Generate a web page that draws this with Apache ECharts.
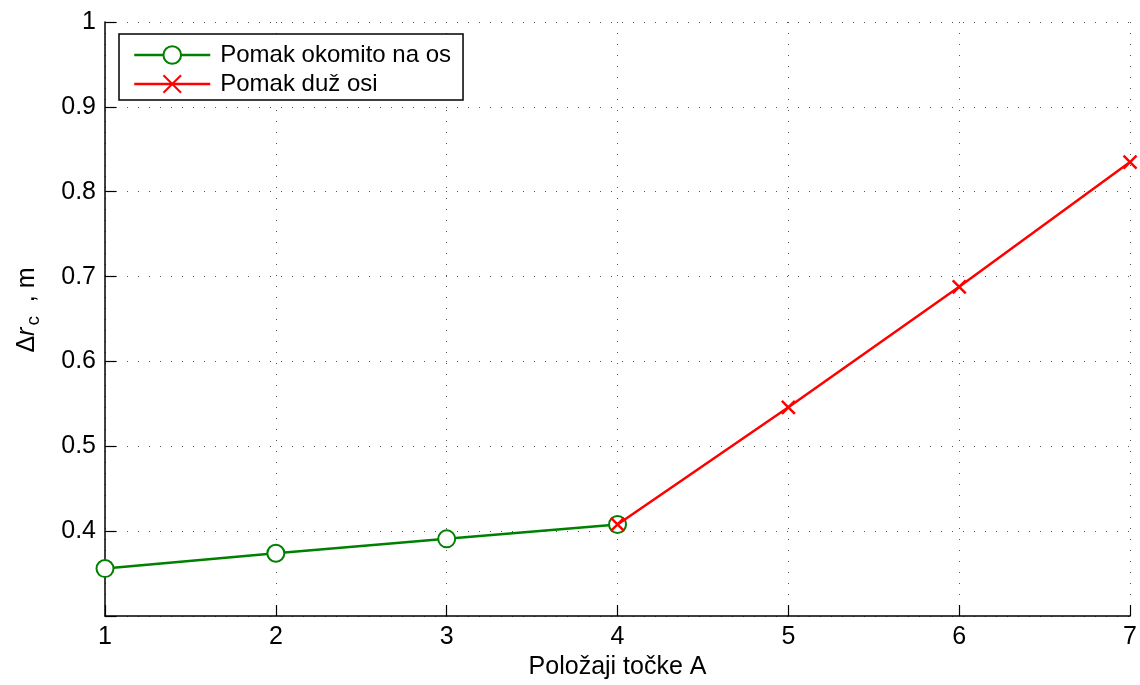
<!DOCTYPE html>
<html><head><meta charset="utf-8">
<script src="https://cdn.jsdelivr.net/npm/echarts@6/dist/echarts.min.js"></script>
<style>html,body{margin:0;padding:0;background:#fff}#c{width:1140px;height:685px}</style>
</head><body><div id="c"></div>
<script>
const positions = [1, 2, 3, 4, 5, 6, 7];
const perpX = [1, 2, 3, 4];
const perpVals = [0.356, 0.374, 0.391, 0.408];
const alongX = [4, 5, 6, 7];
const alongVals = [0.408, 0.546, 0.688, 0.835];
const perpName = 'Pomak okomito na os';
const alongName = 'Pomak duž osi';
const xTitle = 'Položaji točke A';

const FONT = 'Liberation Sans, Arial, sans-serif';
const FS = 25;
const chart = echarts.init(document.getElementById('c'), null, {renderer: 'canvas'});
const grid = {color: '#555', type: [1, 10], width: 1};
chart.setOption({
  animation: false,
  textStyle: {fontFamily: FONT},
  grid: {left: 105, right: 8, top: 22, bottom: 68, containLabel: false},
  legend: {
    left: 119, top: 34, orient: 'vertical',
    backgroundColor: '#fff', borderColor: '#000', borderWidth: 1.5, borderRadius: 0,
    padding: [9, 12, 4, 14], itemGap: 5, itemWidth: 76, itemHeight: 22,
    lineStyle: {width: 2.5},
    textStyle: {fontSize: 24, color: '#000', fontFamily: FONT, padding: [0, 0, 0, 5]},
    data: [perpName, alongName]
  },
  xAxis: {
    type: 'value', min: 1, max: 7, interval: 1,
    axisLine: {onZero: false, lineStyle: {color: '#000', width: 1.5}},
    axisTick: {inside: true, length: 11, lineStyle: {color: '#000', width: 1.2}},
    axisLabel: {fontSize: FS, color: '#000', margin: 9, fontFamily: FONT},
    splitLine: {show: true, lineStyle: grid},
    name: xTitle, nameLocation: 'middle', nameGap: 31,
    nameTextStyle: {fontSize: FS, color: '#000', fontFamily: FONT}
  },
  yAxis: {
    type: 'value', min: 0.3, max: 1, interval: 0.1,
    axisLine: {show: true, lineStyle: {color: '#000', width: 1.5}},
    axisTick: {show: true, inside: true, length: 11, lineStyle: {color: '#000', width: 1.2}},
    axisLabel: {fontSize: FS, color: '#000', margin: 9, fontFamily: FONT,
      formatter: v => (v < 0.35 ? '' : String(Math.round(v * 10) / 10))},
    splitLine: {show: true, lineStyle: grid},
    name: '{n|Δ}{i|r}{s|c}{n|  , m}', nameLocation: 'middle', nameGap: 62, nameRotate: 90,
    nameTextStyle: {
      color: '#000', padding: [0, 0, 0, 18],
      rich: {
        n: {fontSize: FS, fontFamily: FONT, color: '#000'},
        i: {fontSize: FS, fontStyle: 'italic', fontFamily: FONT, color: '#000'},
        s: {fontSize: 19, fontFamily: FONT, color: '#000', verticalAlign: 'bottom', padding: [12, 0, 0, 2]}
      }
    }
  },
  series: [
    {
      name: perpName, type: 'line',
      data: perpX.map((x, i) => [x, perpVals[i]]),
      symbol: 'emptyCircle', symbolSize: 17,
      lineStyle: {color: '#008000', width: 2.5},
      itemStyle: {color: '#008000', borderColor: '#008000', borderWidth: 2.5}, z: 2
    },
    {
      name: alongName, type: 'line',
      data: alongX.map((x, i) => [x, alongVals[i]]),
      symbol: 'path://M0,0L10,10M10,0L0,10', symbolSize: 13, showAllSymbol: true,
      lineStyle: {color: '#ff0000', width: 2.5},
      itemStyle: {color: 'none', borderColor: '#ff0000', borderWidth: 2.5}, z: 3
    }
  ]
});
</script></body></html>
